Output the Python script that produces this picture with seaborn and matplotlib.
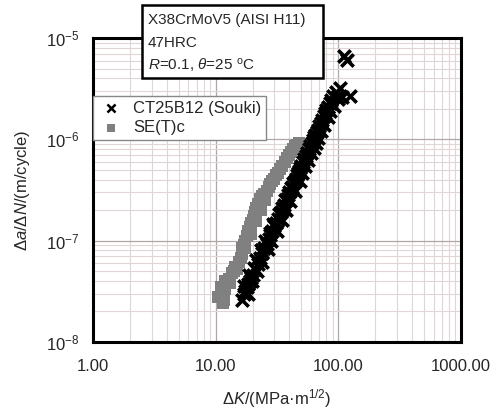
import seaborn as sns
import matplotlib.pyplot as plt
import matplotlib.patches as mpatches
import matplotlib.ticker as mticker
import pandas as pd

########################################################
# Data
########################################################
# CT25B12 (Souki) - crosses
ct_dk = [16.5, 17, 17.5, 17.0, 18, 18.5, 19, 18.8, 19.5, 20, 20.5, 21, 22, 21.5,
         23, 23.5, 24, 25, 25.5, 26, 27, 27.5, 28, 29, 29.5, 30, 31, 32, 33, 34,
         35, 36, 37, 38, 39, 40, 41, 42, 43, 44, 45, 46, 47, 48, 49, 50, 52, 53,
         55, 56, 58, 59, 61, 62, 64, 65, 67, 68, 70, 72, 74, 76, 78, 80, 83, 85,
         88, 90, 95, 98, 103, 108, 125, 112, 118,
         # second pass (band is thick)
         18.2, 19.8, 21.8, 23.8, 26.5, 28.5, 31.5, 34.5, 37.5, 40.5, 44.5, 48.5,
         51, 54, 57, 60, 63, 66, 69, 73, 77, 82, 86, 92, 100]
ct_dadn = [2.6e-8, 3.0e-8, 3.2e-8, 3.6e-8, 3.5e-8, 3.7e-8, 4.0e-8, 4.6e-8, 4.3e-8,
           4.6e-8, 5.4e-8, 5.3e-8, 5.9e-8, 6.5e-8, 6.7e-8, 8.0e-8, 7.5e-8, 8.5e-8,
           1.0e-7, 9.3e-8, 1.03e-7, 1.2e-7, 1.14e-7, 1.25e-7, 1.45e-7, 1.38e-7,
           1.5e-7, 1.64e-7, 1.85e-7, 1.93e-7, 2.1e-7, 2.25e-7, 2.5e-7, 2.6e-7,
           2.8e-7, 3.0e-7, 3.3e-7, 3.4e-7, 3.7e-7, 3.85e-7, 4.1e-7, 4.4e-7, 4.6e-7,
           4.85e-7, 5.2e-7, 5.5e-7, 6.0e-7, 6.4e-7, 6.8e-7, 7.4e-7, 8.0e-7, 8.6e-7,
           9.2e-7, 9.8e-7, 1.05e-6, 1.11e-6, 1.18e-6, 1.25e-6, 1.35e-6, 1.46e-6,
           1.55e-6, 1.7e-6, 1.8e-6, 1.95e-6, 2.1e-6, 2.28e-6, 2.45e-6, 2.67e-6,
           2.9e-6, 2.6e-6, 3.2e-6, 2.6e-6, 2.7e-6, 6.6e-6, 6.1e-6,
           3.0e-8, 4.0e-8, 5.0e-8, 6.2e-8, 8.3e-8, 1.0e-7, 1.25e-7, 1.6e-7,
           2.0e-7, 2.45e-7, 3.1e-7, 3.9e-7, 4.6e-7, 5.4e-7, 6.2e-7, 7.3e-7,
           8.3e-7, 9.3e-7, 1.03e-6, 1.2e-6, 1.4e-6, 1.65e-6, 1.9e-6, 2.15e-6, 2.5e-6]

# SE(T)c - grey squares
se_dk = [10.5, 11.0, 11.5, 11.8, 11.0, 12.0, 12.0, 12.8, 13.0, 13.5, 14.0, 14.5,
         15.0, 15.5, 16.0, 16.5, 16.5, 17.0, 17.5, 18.0, 18.5, 19.0, 19.5, 20.0,
         20.5, 21.0, 21.5, 22.0, 23.0, 24.0, 25.0, 26.0, 27.0, 28.0, 29.0, 30.0,
         31.0, 32.0, 33.5, 35.0, 36.5, 38.0, 39.5, 41.0, 42.5, 44.0, 46.0, 47.5,
         # extra points where the band is wider
         17.5, 19.5, 21.5, 23.5, 25.5]
se_dadn = [2.8e-8, 3.1e-8, 2.4e-8, 2.6e-8, 3.5e-8, 3.3e-8, 4.0e-8, 4.2e-8, 3.8e-8,
           4.8e-8, 5.0e-8, 5.5e-8, 5.3e-8, 6.2e-8, 6.8e-8, 7.4e-8, 8.5e-8, 9.0e-8,
           1.0e-7, 1.1e-7, 1.25e-7, 1.35e-7, 1.5e-7, 1.6e-7, 1.75e-7, 1.9e-7,
           2.1e-7, 2.3e-7, 2.6e-7, 2.75e-7, 2.9e-7, 3.1e-7, 3.4e-7, 3.6e-7, 3.9e-7,
           4.1e-7, 4.4e-7, 4.7e-7, 5.1e-7, 5.5e-7, 6.0e-7, 6.5e-7, 7.0e-7, 7.5e-7,
           8.0e-7, 8.5e-7, 8.8e-7, 9.1e-7,
           8.5e-8, 1.15e-7, 1.55e-7, 2.0e-7, 2.5e-7]

x_ticks = [1, 10, 100, 1000]
x_ticklabels = ['1.00', '10.00', '100.00', '1000.00']
y_ticks = [1e-8, 1e-7, 1e-6, 1e-5]
y_ticklabels = [r'$10^{-8}$', r'$10^{-7}$', r'$10^{-6}$', r'$10^{-5}$']

info_lines = ['X38CrMoV5 (AISI H11)', '47HRC', r'$R$=0.1, $\theta$=25 $^{\rm o}$C']

ct = pd.DataFrame({'dK': ct_dk, 'dadN': ct_dadn})
se = pd.DataFrame({'dK': se_dk, 'dadN': se_dadn})

########################################################
# Style
########################################################
sns.set_theme(style='white')
plt.rcParams['font.family'] = ['Liberation Sans', 'DejaVu Sans']
plt.rcParams['mathtext.fontset'] = 'custom'
plt.rcParams['mathtext.rm'] = 'Liberation Sans'
plt.rcParams['mathtext.it'] = 'Liberation Sans:italic'
plt.rcParams['mathtext.bf'] = 'Liberation Sans:bold'

fig = plt.figure(figsize=(4.95, 4.09), dpi=100)
ax = fig.add_axes([0.188, 0.164, 0.743, 0.743])

########################################################
# Scatter
########################################################
sns.scatterplot(data=se, x='dK', y='dadN', marker='s', s=85, color='#808080',
                linewidth=0, ax=ax, label='SE(T)c', zorder=3)
sns.scatterplot(data=ct, x='dK', y='dadN', marker='x', s=80, color='black',
                linewidth=2.6, ax=ax, label='CT25B12 (Souki)', zorder=4)

ax.set_xscale('log')
ax.set_yscale('log')
ax.set_xlim(1, 1000)
ax.set_ylim(1e-8, 1e-5)

ax.xaxis.set_minor_locator(mticker.LogLocator(base=10, subs=range(2, 10)))
ax.yaxis.set_minor_locator(mticker.LogLocator(base=10, subs=range(2, 10)))
ax.xaxis.set_minor_formatter(mticker.NullFormatter())
ax.yaxis.set_minor_formatter(mticker.NullFormatter())
ax.set_xticks(x_ticks)
ax.set_xticklabels(x_ticklabels, fontsize=12)
ax.set_yticks(y_ticks)
ax.set_yticklabels(y_ticklabels, fontsize=12)

ax.grid(which='major', color='#b0a6a6', linewidth=0.9)
ax.grid(which='minor', color='#e0d6d6', linewidth=0.8)
ax.set_axisbelow(True)

ax.tick_params(which='both', direction='in', color='black', top=False, right=False)
ax.tick_params(which='major', length=4, width=2, pad=12)
ax.tick_params(which='minor', length=3, width=2)
ax.tick_params(axis='y', which='major', pad=10)

for sp in ax.spines.values():
    sp.set_linewidth(2.2)
    sp.set_color('black')

ax.set_xlabel(r'Δ$K$/(MPa·m$^{1/2}$)', fontsize=12, labelpad=10)
ax.set_ylabel(r'Δ$a$/Δ$N$/(m/cycle)', fontsize=12, labelpad=10)

# legend: crosses first, small markers
handles, labels = ax.get_legend_handles_labels()
order = [labels.index('CT25B12 (Souki)'), labels.index('SE(T)c')]
leg = ax.legend([handles[i] for i in order], [labels[i] for i in order],
                loc='upper left', bbox_to_anchor=(0.0, 0.81), borderaxespad=0,
                fontsize=12, frameon=True, fancybox=False, framealpha=1,
                edgecolor='#888888', handletextpad=0.5, labelspacing=0.25,
                borderpad=0.3, handlelength=1.6, markerscale=0.65)
leg.get_frame().set_linewidth(1.0)
leg.legend_handles[0].set_linewidth(1.8)
leg.set_zorder(10)

########################################################
# Material info box (sticks out above the axes)
########################################################
box = mpatches.Rectangle((0.287, 0.809), 0.366, 0.178, transform=fig.transFigure,
                         facecolor='white', edgecolor='black', linewidth=1.8,
                         zorder=5)
fig.patches.append(box)
for i, line in enumerate(info_lines):
    fig.text(0.299, 0.951 - i * 0.055, line, fontsize=11, va='center',
             ha='left', zorder=6)

plt.savefig('out.png', dpi=100)
